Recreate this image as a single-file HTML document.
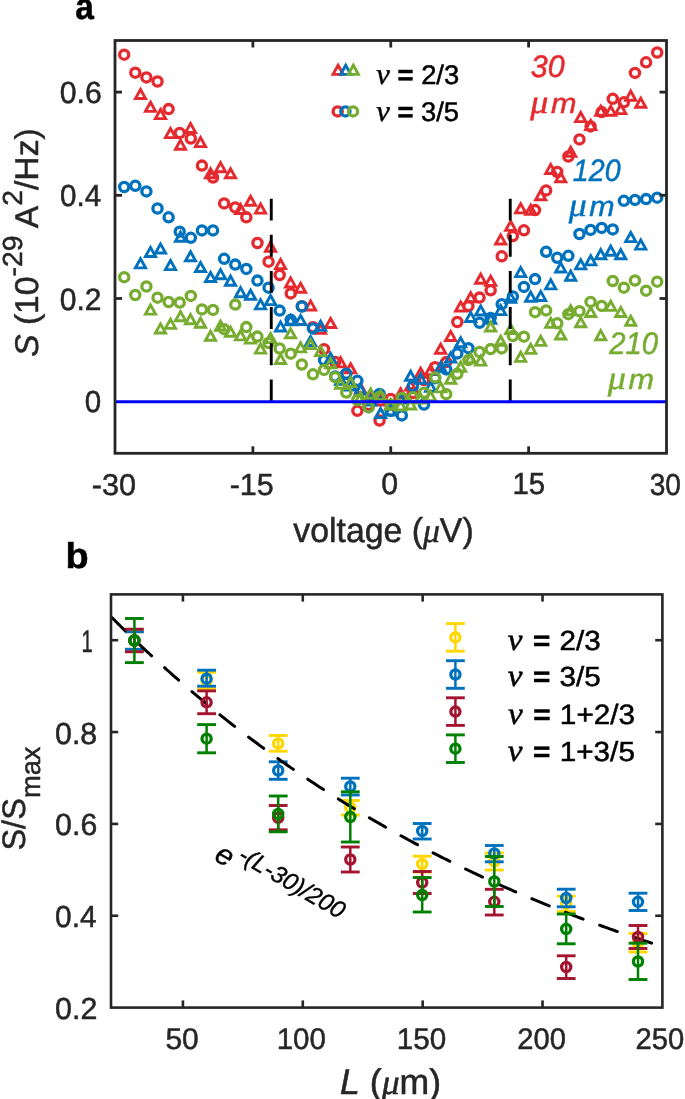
<!DOCTYPE html>
<html><head><meta charset="utf-8"><title>Figure</title>
<style>html,body{margin:0;padding:0;background:#fff;width:685px;height:1099px;overflow:hidden;font-family:"Liberation Sans",sans-serif}</style>
</head><body>
<svg width="685" height="1099" viewBox="0 0 685 1099" style="position:absolute;left:0;top:0;will-change:transform">
<rect width="685" height="1099" fill="#fff"/>
<path d="M140.50 89.40L145.55 98.50L135.45 98.50Z" fill="none" stroke="#E52A2F" stroke-width="2.9" stroke-linejoin="miter"/><path d="M150.50 102.30L155.56 111.40L145.45 111.40Z" fill="none" stroke="#E52A2F" stroke-width="2.9" stroke-linejoin="miter"/><path d="M160.51 109.50L165.56 118.60L155.46 118.60Z" fill="none" stroke="#E52A2F" stroke-width="2.9" stroke-linejoin="miter"/><path d="M170.51 128.50L175.56 137.60L165.46 137.60Z" fill="none" stroke="#E52A2F" stroke-width="2.9" stroke-linejoin="miter"/><path d="M180.52 140.10L185.57 149.20L175.47 149.20Z" fill="none" stroke="#E52A2F" stroke-width="2.9" stroke-linejoin="miter"/><path d="M190.53 123.40L195.58 132.50L185.47 132.50Z" fill="none" stroke="#E52A2F" stroke-width="2.9" stroke-linejoin="miter"/><path d="M200.53 137.50L205.58 146.60L195.48 146.60Z" fill="none" stroke="#E52A2F" stroke-width="2.9" stroke-linejoin="miter"/><path d="M210.54 168.70L215.59 177.80L205.49 177.80Z" fill="none" stroke="#E52A2F" stroke-width="2.9" stroke-linejoin="miter"/><path d="M220.54 162.60L225.59 171.70L215.49 171.70Z" fill="none" stroke="#E52A2F" stroke-width="2.9" stroke-linejoin="miter"/><path d="M230.55 168.70L235.60 177.80L225.50 177.80Z" fill="none" stroke="#E52A2F" stroke-width="2.9" stroke-linejoin="miter"/><path d="M240.55 204.40L245.60 213.50L235.50 213.50Z" fill="none" stroke="#E52A2F" stroke-width="2.9" stroke-linejoin="miter"/><path d="M250.56 196.20L255.61 205.30L245.50 205.30Z" fill="none" stroke="#E52A2F" stroke-width="2.9" stroke-linejoin="miter"/><path d="M260.56 204.00L265.61 213.10L255.51 213.10Z" fill="none" stroke="#E52A2F" stroke-width="2.9" stroke-linejoin="miter"/><path d="M270.56 242.10L275.62 251.20L265.51 251.20Z" fill="none" stroke="#E52A2F" stroke-width="2.9" stroke-linejoin="miter"/><path d="M280.57 259.50L285.62 268.60L275.52 268.60Z" fill="none" stroke="#E52A2F" stroke-width="2.9" stroke-linejoin="miter"/><path d="M290.58 277.90L295.63 287.00L285.53 287.00Z" fill="none" stroke="#E52A2F" stroke-width="2.9" stroke-linejoin="miter"/><path d="M300.58 283.20L305.63 292.30L295.53 292.30Z" fill="none" stroke="#E52A2F" stroke-width="2.9" stroke-linejoin="miter"/><path d="M310.59 300.90L315.64 310.00L305.54 310.00Z" fill="none" stroke="#E52A2F" stroke-width="2.9" stroke-linejoin="miter"/><path d="M320.59 324.30L325.64 333.40L315.54 333.40Z" fill="none" stroke="#E52A2F" stroke-width="2.9" stroke-linejoin="miter"/><path d="M330.60 318.40L335.65 327.50L325.55 327.50Z" fill="none" stroke="#E52A2F" stroke-width="2.9" stroke-linejoin="miter"/><path d="M340.60 357.80L345.65 366.90L335.55 366.90Z" fill="none" stroke="#E52A2F" stroke-width="2.9" stroke-linejoin="miter"/><path d="M350.61 363.80L355.66 372.90L345.56 372.90Z" fill="none" stroke="#E52A2F" stroke-width="2.9" stroke-linejoin="miter"/><path d="M360.61 383.60L365.66 392.70L355.56 392.70Z" fill="none" stroke="#E52A2F" stroke-width="2.9" stroke-linejoin="miter"/><path d="M370.62 390.90L375.67 400.00L365.56 400.00Z" fill="none" stroke="#E52A2F" stroke-width="2.9" stroke-linejoin="miter"/><path d="M380.62 395.90L385.67 405.00L375.57 405.00Z" fill="none" stroke="#E52A2F" stroke-width="2.9" stroke-linejoin="miter"/><path d="M390.62 399.90L395.68 409.00L385.57 409.00Z" fill="none" stroke="#E52A2F" stroke-width="2.9" stroke-linejoin="miter"/><path d="M400.63 388.70L405.68 397.80L395.58 397.80Z" fill="none" stroke="#E52A2F" stroke-width="2.9" stroke-linejoin="miter"/><path d="M410.64 380.90L415.69 390.00L405.59 390.00Z" fill="none" stroke="#E52A2F" stroke-width="2.9" stroke-linejoin="miter"/><path d="M420.64 368.20L425.69 377.30L415.59 377.30Z" fill="none" stroke="#E52A2F" stroke-width="2.9" stroke-linejoin="miter"/><path d="M430.65 365.50L435.70 374.60L425.60 374.60Z" fill="none" stroke="#E52A2F" stroke-width="2.9" stroke-linejoin="miter"/><path d="M440.65 344.20L445.70 353.30L435.60 353.30Z" fill="none" stroke="#E52A2F" stroke-width="2.9" stroke-linejoin="miter"/><path d="M450.66 331.40L455.71 340.50L445.61 340.50Z" fill="none" stroke="#E52A2F" stroke-width="2.9" stroke-linejoin="miter"/><path d="M460.66 301.90L465.71 311.00L455.61 311.00Z" fill="none" stroke="#E52A2F" stroke-width="2.9" stroke-linejoin="miter"/><path d="M470.67 292.70L475.72 301.80L465.62 301.80Z" fill="none" stroke="#E52A2F" stroke-width="2.9" stroke-linejoin="miter"/><path d="M480.67 274.10L485.72 283.20L475.62 283.20Z" fill="none" stroke="#E52A2F" stroke-width="2.9" stroke-linejoin="miter"/><path d="M490.68 276.30L495.73 285.40L485.62 285.40Z" fill="none" stroke="#E52A2F" stroke-width="2.9" stroke-linejoin="miter"/><path d="M500.68 234.90L505.73 244.00L495.63 244.00Z" fill="none" stroke="#E52A2F" stroke-width="2.9" stroke-linejoin="miter"/><path d="M510.69 221.30L515.74 230.40L505.63 230.40Z" fill="none" stroke="#E52A2F" stroke-width="2.9" stroke-linejoin="miter"/><path d="M520.69 203.80L525.74 212.90L515.64 212.90Z" fill="none" stroke="#E52A2F" stroke-width="2.9" stroke-linejoin="miter"/><path d="M530.70 205.20L535.75 214.30L525.65 214.30Z" fill="none" stroke="#E52A2F" stroke-width="2.9" stroke-linejoin="miter"/><path d="M540.70 190.60L545.75 199.70L535.65 199.70Z" fill="none" stroke="#E52A2F" stroke-width="2.9" stroke-linejoin="miter"/><path d="M550.71 164.40L555.75 173.50L545.66 173.50Z" fill="none" stroke="#E52A2F" stroke-width="2.9" stroke-linejoin="miter"/><path d="M560.71 172.70L565.76 181.80L555.66 181.80Z" fill="none" stroke="#E52A2F" stroke-width="2.9" stroke-linejoin="miter"/><path d="M570.72 147.20L575.76 156.30L565.67 156.30Z" fill="none" stroke="#E52A2F" stroke-width="2.9" stroke-linejoin="miter"/><path d="M580.72 112.50L585.77 121.60L575.67 121.60Z" fill="none" stroke="#E52A2F" stroke-width="2.9" stroke-linejoin="miter"/><path d="M590.73 120.50L595.77 129.60L585.68 129.60Z" fill="none" stroke="#E52A2F" stroke-width="2.9" stroke-linejoin="miter"/><path d="M600.73 106.20L605.78 115.30L595.68 115.30Z" fill="none" stroke="#E52A2F" stroke-width="2.9" stroke-linejoin="miter"/><path d="M610.74 106.20L615.78 115.30L605.69 115.30Z" fill="none" stroke="#E52A2F" stroke-width="2.9" stroke-linejoin="miter"/><path d="M620.74 104.50L625.79 113.60L615.69 113.60Z" fill="none" stroke="#E52A2F" stroke-width="2.9" stroke-linejoin="miter"/><path d="M630.75 91.10L635.80 100.20L625.70 100.20Z" fill="none" stroke="#E52A2F" stroke-width="2.9" stroke-linejoin="miter"/><path d="M640.75 98.20L645.80 107.30L635.70 107.30Z" fill="none" stroke="#E52A2F" stroke-width="2.9" stroke-linejoin="miter"/>
<circle cx="124.20" cy="54.70" r="4.6" fill="none" stroke="#E52A2F" stroke-width="3.3"/><circle cx="135.30" cy="72.70" r="4.6" fill="none" stroke="#E52A2F" stroke-width="3.3"/><circle cx="146.41" cy="77.40" r="4.6" fill="none" stroke="#E52A2F" stroke-width="3.3"/><circle cx="157.51" cy="81.50" r="4.6" fill="none" stroke="#E52A2F" stroke-width="3.3"/><circle cx="168.62" cy="109.10" r="4.6" fill="none" stroke="#E52A2F" stroke-width="3.3"/><circle cx="179.72" cy="133.00" r="4.6" fill="none" stroke="#E52A2F" stroke-width="3.3"/><circle cx="190.82" cy="138.50" r="4.6" fill="none" stroke="#E52A2F" stroke-width="3.3"/><circle cx="201.93" cy="165.60" r="4.6" fill="none" stroke="#E52A2F" stroke-width="3.3"/><circle cx="213.03" cy="177.50" r="4.6" fill="none" stroke="#E52A2F" stroke-width="3.3"/><circle cx="224.14" cy="203.40" r="4.6" fill="none" stroke="#E52A2F" stroke-width="3.3"/><circle cx="235.24" cy="207.40" r="4.6" fill="none" stroke="#E52A2F" stroke-width="3.3"/><circle cx="246.34" cy="217.30" r="4.6" fill="none" stroke="#E52A2F" stroke-width="3.3"/><circle cx="257.45" cy="243.00" r="4.6" fill="none" stroke="#E52A2F" stroke-width="3.3"/><circle cx="268.55" cy="261.70" r="4.6" fill="none" stroke="#E52A2F" stroke-width="3.3"/><circle cx="279.66" cy="275.00" r="4.6" fill="none" stroke="#E52A2F" stroke-width="3.3"/><circle cx="290.76" cy="293.40" r="4.6" fill="none" stroke="#E52A2F" stroke-width="3.3"/><circle cx="301.86" cy="306.20" r="4.6" fill="none" stroke="#E52A2F" stroke-width="3.3"/><circle cx="312.97" cy="327.20" r="4.6" fill="none" stroke="#E52A2F" stroke-width="3.3"/><circle cx="324.07" cy="349.20" r="4.6" fill="none" stroke="#E52A2F" stroke-width="3.3"/><circle cx="335.18" cy="362.00" r="4.6" fill="none" stroke="#E52A2F" stroke-width="3.3"/><circle cx="346.28" cy="374.00" r="4.6" fill="none" stroke="#E52A2F" stroke-width="3.3"/><circle cx="357.38" cy="410.80" r="4.6" fill="none" stroke="#E52A2F" stroke-width="3.3"/><circle cx="368.49" cy="405.00" r="4.6" fill="none" stroke="#E52A2F" stroke-width="3.3"/><circle cx="379.59" cy="420.50" r="4.6" fill="none" stroke="#E52A2F" stroke-width="3.3"/><circle cx="390.70" cy="399.00" r="4.6" fill="none" stroke="#E52A2F" stroke-width="3.3"/><circle cx="401.80" cy="398.00" r="4.6" fill="none" stroke="#E52A2F" stroke-width="3.3"/><circle cx="412.90" cy="393.00" r="4.6" fill="none" stroke="#E52A2F" stroke-width="3.3"/><circle cx="424.01" cy="380.00" r="4.6" fill="none" stroke="#E52A2F" stroke-width="3.3"/><circle cx="435.11" cy="367.20" r="4.6" fill="none" stroke="#E52A2F" stroke-width="3.3"/><circle cx="446.22" cy="362.10" r="4.6" fill="none" stroke="#E52A2F" stroke-width="3.3"/><circle cx="457.32" cy="322.00" r="4.6" fill="none" stroke="#E52A2F" stroke-width="3.3"/><circle cx="468.42" cy="306.10" r="4.6" fill="none" stroke="#E52A2F" stroke-width="3.3"/><circle cx="479.53" cy="297.60" r="4.6" fill="none" stroke="#E52A2F" stroke-width="3.3"/><circle cx="490.63" cy="290.30" r="4.6" fill="none" stroke="#E52A2F" stroke-width="3.3"/><circle cx="501.74" cy="256.30" r="4.6" fill="none" stroke="#E52A2F" stroke-width="3.3"/><circle cx="512.84" cy="236.10" r="4.6" fill="none" stroke="#E52A2F" stroke-width="3.3"/><circle cx="523.94" cy="230.30" r="4.6" fill="none" stroke="#E52A2F" stroke-width="3.3"/><circle cx="535.05" cy="210.10" r="4.6" fill="none" stroke="#E52A2F" stroke-width="3.3"/><circle cx="546.15" cy="190.40" r="4.6" fill="none" stroke="#E52A2F" stroke-width="3.3"/><circle cx="557.26" cy="172.00" r="4.6" fill="none" stroke="#E52A2F" stroke-width="3.3"/><circle cx="568.36" cy="156.50" r="4.6" fill="none" stroke="#E52A2F" stroke-width="3.3"/><circle cx="579.46" cy="139.40" r="4.6" fill="none" stroke="#E52A2F" stroke-width="3.3"/><circle cx="590.57" cy="126.40" r="4.6" fill="none" stroke="#E52A2F" stroke-width="3.3"/><circle cx="601.67" cy="112.10" r="4.6" fill="none" stroke="#E52A2F" stroke-width="3.3"/><circle cx="612.78" cy="98.80" r="4.6" fill="none" stroke="#E52A2F" stroke-width="3.3"/><circle cx="623.88" cy="102.30" r="4.6" fill="none" stroke="#E52A2F" stroke-width="3.3"/><circle cx="634.98" cy="72.90" r="4.6" fill="none" stroke="#E52A2F" stroke-width="3.3"/><circle cx="646.09" cy="62.30" r="4.6" fill="none" stroke="#E52A2F" stroke-width="3.3"/><circle cx="657.19" cy="52.50" r="4.6" fill="none" stroke="#E52A2F" stroke-width="3.3"/>
<path d="M140.50 258.80L145.55 267.90L135.45 267.90Z" fill="none" stroke="#0072BD" stroke-width="2.9" stroke-linejoin="miter"/><path d="M150.50 247.40L155.56 256.50L145.45 256.50Z" fill="none" stroke="#0072BD" stroke-width="2.9" stroke-linejoin="miter"/><path d="M160.51 243.90L165.56 253.00L155.46 253.00Z" fill="none" stroke="#0072BD" stroke-width="2.9" stroke-linejoin="miter"/><path d="M170.51 260.50L175.56 269.60L165.46 269.60Z" fill="none" stroke="#0072BD" stroke-width="2.9" stroke-linejoin="miter"/><path d="M180.52 232.10L185.57 241.20L175.47 241.20Z" fill="none" stroke="#0072BD" stroke-width="2.9" stroke-linejoin="miter"/><path d="M190.53 251.70L195.58 260.80L185.47 260.80Z" fill="none" stroke="#0072BD" stroke-width="2.9" stroke-linejoin="miter"/><path d="M200.53 262.40L205.58 271.50L195.48 271.50Z" fill="none" stroke="#0072BD" stroke-width="2.9" stroke-linejoin="miter"/><path d="M210.54 272.40L215.59 281.50L205.49 281.50Z" fill="none" stroke="#0072BD" stroke-width="2.9" stroke-linejoin="miter"/><path d="M220.54 269.60L225.59 278.70L215.49 278.70Z" fill="none" stroke="#0072BD" stroke-width="2.9" stroke-linejoin="miter"/><path d="M230.55 276.10L235.60 285.20L225.50 285.20Z" fill="none" stroke="#0072BD" stroke-width="2.9" stroke-linejoin="miter"/><path d="M240.55 287.60L245.60 296.70L235.50 296.70Z" fill="none" stroke="#0072BD" stroke-width="2.9" stroke-linejoin="miter"/><path d="M250.56 290.20L255.61 299.30L245.50 299.30Z" fill="none" stroke="#0072BD" stroke-width="2.9" stroke-linejoin="miter"/><path d="M260.56 299.80L265.61 308.90L255.51 308.90Z" fill="none" stroke="#0072BD" stroke-width="2.9" stroke-linejoin="miter"/><path d="M270.56 295.50L275.62 304.60L265.51 304.60Z" fill="none" stroke="#0072BD" stroke-width="2.9" stroke-linejoin="miter"/><path d="M280.57 321.90L285.62 331.00L275.52 331.00Z" fill="none" stroke="#0072BD" stroke-width="2.9" stroke-linejoin="miter"/><path d="M290.58 315.60L295.63 324.70L285.53 324.70Z" fill="none" stroke="#0072BD" stroke-width="2.9" stroke-linejoin="miter"/><path d="M300.58 315.40L305.63 324.50L295.53 324.50Z" fill="none" stroke="#0072BD" stroke-width="2.9" stroke-linejoin="miter"/><path d="M310.59 336.40L315.64 345.50L305.54 345.50Z" fill="none" stroke="#0072BD" stroke-width="2.9" stroke-linejoin="miter"/><path d="M320.59 321.20L325.64 330.30L315.54 330.30Z" fill="none" stroke="#0072BD" stroke-width="2.9" stroke-linejoin="miter"/><path d="M330.60 353.50L335.65 362.60L325.55 362.60Z" fill="none" stroke="#0072BD" stroke-width="2.9" stroke-linejoin="miter"/><path d="M340.60 375.30L345.65 384.40L335.55 384.40Z" fill="none" stroke="#0072BD" stroke-width="2.9" stroke-linejoin="miter"/><path d="M350.61 380.90L355.66 390.00L345.56 390.00Z" fill="none" stroke="#0072BD" stroke-width="2.9" stroke-linejoin="miter"/><path d="M360.61 385.10L365.66 394.20L355.56 394.20Z" fill="none" stroke="#0072BD" stroke-width="2.9" stroke-linejoin="miter"/><path d="M370.62 395.90L375.67 405.00L365.56 405.00Z" fill="none" stroke="#0072BD" stroke-width="2.9" stroke-linejoin="miter"/><path d="M380.62 408.50L385.67 417.60L375.57 417.60Z" fill="none" stroke="#0072BD" stroke-width="2.9" stroke-linejoin="miter"/><path d="M390.62 405.90L395.68 415.00L385.57 415.00Z" fill="none" stroke="#0072BD" stroke-width="2.9" stroke-linejoin="miter"/><path d="M400.63 393.90L405.68 403.00L395.58 403.00Z" fill="none" stroke="#0072BD" stroke-width="2.9" stroke-linejoin="miter"/><path d="M410.64 371.20L415.69 380.30L405.59 380.30Z" fill="none" stroke="#0072BD" stroke-width="2.9" stroke-linejoin="miter"/><path d="M420.64 374.10L425.69 383.20L415.59 383.20Z" fill="none" stroke="#0072BD" stroke-width="2.9" stroke-linejoin="miter"/><path d="M430.65 382.10L435.70 391.20L425.60 391.20Z" fill="none" stroke="#0072BD" stroke-width="2.9" stroke-linejoin="miter"/><path d="M440.65 362.40L445.70 371.50L435.60 371.50Z" fill="none" stroke="#0072BD" stroke-width="2.9" stroke-linejoin="miter"/><path d="M450.66 352.90L455.71 362.00L445.61 362.00Z" fill="none" stroke="#0072BD" stroke-width="2.9" stroke-linejoin="miter"/><path d="M460.66 337.70L465.71 346.80L455.61 346.80Z" fill="none" stroke="#0072BD" stroke-width="2.9" stroke-linejoin="miter"/><path d="M470.67 312.40L475.72 321.50L465.62 321.50Z" fill="none" stroke="#0072BD" stroke-width="2.9" stroke-linejoin="miter"/><path d="M480.67 305.90L485.72 315.00L475.62 315.00Z" fill="none" stroke="#0072BD" stroke-width="2.9" stroke-linejoin="miter"/><path d="M490.68 314.30L495.73 323.40L485.62 323.40Z" fill="none" stroke="#0072BD" stroke-width="2.9" stroke-linejoin="miter"/><path d="M500.68 305.50L505.73 314.60L495.63 314.60Z" fill="none" stroke="#0072BD" stroke-width="2.9" stroke-linejoin="miter"/><path d="M510.69 293.10L515.74 302.20L505.63 302.20Z" fill="none" stroke="#0072BD" stroke-width="2.9" stroke-linejoin="miter"/><path d="M520.69 267.50L525.74 276.60L515.64 276.60Z" fill="none" stroke="#0072BD" stroke-width="2.9" stroke-linejoin="miter"/><path d="M530.70 292.10L535.75 301.20L525.65 301.20Z" fill="none" stroke="#0072BD" stroke-width="2.9" stroke-linejoin="miter"/><path d="M540.70 291.40L545.75 300.50L535.65 300.50Z" fill="none" stroke="#0072BD" stroke-width="2.9" stroke-linejoin="miter"/><path d="M550.71 279.80L555.75 288.90L545.66 288.90Z" fill="none" stroke="#0072BD" stroke-width="2.9" stroke-linejoin="miter"/><path d="M560.71 262.90L565.76 272.00L555.66 272.00Z" fill="none" stroke="#0072BD" stroke-width="2.9" stroke-linejoin="miter"/><path d="M570.72 271.10L575.76 280.20L565.67 280.20Z" fill="none" stroke="#0072BD" stroke-width="2.9" stroke-linejoin="miter"/><path d="M580.72 259.80L585.77 268.90L575.67 268.90Z" fill="none" stroke="#0072BD" stroke-width="2.9" stroke-linejoin="miter"/><path d="M590.73 255.80L595.77 264.90L585.68 264.90Z" fill="none" stroke="#0072BD" stroke-width="2.9" stroke-linejoin="miter"/><path d="M600.73 249.60L605.78 258.70L595.68 258.70Z" fill="none" stroke="#0072BD" stroke-width="2.9" stroke-linejoin="miter"/><path d="M610.74 246.10L615.78 255.20L605.69 255.20Z" fill="none" stroke="#0072BD" stroke-width="2.9" stroke-linejoin="miter"/><path d="M620.74 249.60L625.79 258.70L615.69 258.70Z" fill="none" stroke="#0072BD" stroke-width="2.9" stroke-linejoin="miter"/><path d="M630.75 232.50L635.80 241.60L625.70 241.60Z" fill="none" stroke="#0072BD" stroke-width="2.9" stroke-linejoin="miter"/><path d="M640.75 240.00L645.80 249.10L635.70 249.10Z" fill="none" stroke="#0072BD" stroke-width="2.9" stroke-linejoin="miter"/>
<circle cx="124.20" cy="187.00" r="4.6" fill="none" stroke="#0072BD" stroke-width="3.3"/><circle cx="135.30" cy="185.80" r="4.6" fill="none" stroke="#0072BD" stroke-width="3.3"/><circle cx="146.41" cy="191.40" r="4.6" fill="none" stroke="#0072BD" stroke-width="3.3"/><circle cx="157.51" cy="208.50" r="4.6" fill="none" stroke="#0072BD" stroke-width="3.3"/><circle cx="168.62" cy="217.30" r="4.6" fill="none" stroke="#0072BD" stroke-width="3.3"/><circle cx="179.72" cy="231.70" r="4.6" fill="none" stroke="#0072BD" stroke-width="3.3"/><circle cx="190.82" cy="237.80" r="4.6" fill="none" stroke="#0072BD" stroke-width="3.3"/><circle cx="201.93" cy="230.40" r="4.6" fill="none" stroke="#0072BD" stroke-width="3.3"/><circle cx="213.03" cy="230.40" r="4.6" fill="none" stroke="#0072BD" stroke-width="3.3"/><circle cx="224.14" cy="258.80" r="4.6" fill="none" stroke="#0072BD" stroke-width="3.3"/><circle cx="235.24" cy="264.60" r="4.6" fill="none" stroke="#0072BD" stroke-width="3.3"/><circle cx="246.34" cy="268.90" r="4.6" fill="none" stroke="#0072BD" stroke-width="3.3"/><circle cx="257.45" cy="280.60" r="4.6" fill="none" stroke="#0072BD" stroke-width="3.3"/><circle cx="268.55" cy="287.70" r="4.6" fill="none" stroke="#0072BD" stroke-width="3.3"/><circle cx="279.66" cy="310.60" r="4.6" fill="none" stroke="#0072BD" stroke-width="3.3"/><circle cx="290.76" cy="319.80" r="4.6" fill="none" stroke="#0072BD" stroke-width="3.3"/><circle cx="301.86" cy="306.50" r="4.6" fill="none" stroke="#0072BD" stroke-width="3.3"/><circle cx="312.97" cy="328.40" r="4.6" fill="none" stroke="#0072BD" stroke-width="3.3"/><circle cx="324.07" cy="360.10" r="4.6" fill="none" stroke="#0072BD" stroke-width="3.3"/><circle cx="335.18" cy="376.50" r="4.6" fill="none" stroke="#0072BD" stroke-width="3.3"/><circle cx="346.28" cy="373.80" r="4.6" fill="none" stroke="#0072BD" stroke-width="3.3"/><circle cx="357.38" cy="380.80" r="4.6" fill="none" stroke="#0072BD" stroke-width="3.3"/><circle cx="368.49" cy="407.20" r="4.6" fill="none" stroke="#0072BD" stroke-width="3.3"/><circle cx="379.59" cy="394.00" r="4.6" fill="none" stroke="#0072BD" stroke-width="3.3"/><circle cx="390.70" cy="410.90" r="4.6" fill="none" stroke="#0072BD" stroke-width="3.3"/><circle cx="401.80" cy="415.40" r="4.6" fill="none" stroke="#0072BD" stroke-width="3.3"/><circle cx="412.90" cy="386.20" r="4.6" fill="none" stroke="#0072BD" stroke-width="3.3"/><circle cx="424.01" cy="404.50" r="4.6" fill="none" stroke="#0072BD" stroke-width="3.3"/><circle cx="435.11" cy="378.20" r="4.6" fill="none" stroke="#0072BD" stroke-width="3.3"/><circle cx="446.22" cy="369.40" r="4.6" fill="none" stroke="#0072BD" stroke-width="3.3"/><circle cx="457.32" cy="353.40" r="4.6" fill="none" stroke="#0072BD" stroke-width="3.3"/><circle cx="468.42" cy="348.20" r="4.6" fill="none" stroke="#0072BD" stroke-width="3.3"/><circle cx="479.53" cy="322.80" r="4.6" fill="none" stroke="#0072BD" stroke-width="3.3"/><circle cx="490.63" cy="318.00" r="4.6" fill="none" stroke="#0072BD" stroke-width="3.3"/><circle cx="501.74" cy="304.20" r="4.6" fill="none" stroke="#0072BD" stroke-width="3.3"/><circle cx="512.84" cy="296.50" r="4.6" fill="none" stroke="#0072BD" stroke-width="3.3"/><circle cx="523.94" cy="286.90" r="4.6" fill="none" stroke="#0072BD" stroke-width="3.3"/><circle cx="535.05" cy="279.10" r="4.6" fill="none" stroke="#0072BD" stroke-width="3.3"/><circle cx="546.15" cy="251.80" r="4.6" fill="none" stroke="#0072BD" stroke-width="3.3"/><circle cx="557.26" cy="257.80" r="4.6" fill="none" stroke="#0072BD" stroke-width="3.3"/><circle cx="568.36" cy="255.80" r="4.6" fill="none" stroke="#0072BD" stroke-width="3.3"/><circle cx="579.46" cy="234.00" r="4.6" fill="none" stroke="#0072BD" stroke-width="3.3"/><circle cx="590.57" cy="229.90" r="4.6" fill="none" stroke="#0072BD" stroke-width="3.3"/><circle cx="601.67" cy="227.90" r="4.6" fill="none" stroke="#0072BD" stroke-width="3.3"/><circle cx="612.78" cy="229.40" r="4.6" fill="none" stroke="#0072BD" stroke-width="3.3"/><circle cx="623.88" cy="200.80" r="4.6" fill="none" stroke="#0072BD" stroke-width="3.3"/><circle cx="634.98" cy="199.90" r="4.6" fill="none" stroke="#0072BD" stroke-width="3.3"/><circle cx="646.09" cy="199.10" r="4.6" fill="none" stroke="#0072BD" stroke-width="3.3"/><circle cx="657.19" cy="197.70" r="4.6" fill="none" stroke="#0072BD" stroke-width="3.3"/>
<path d="M150.50 305.00L155.56 314.10L145.45 314.10Z" fill="none" stroke="#77AC30" stroke-width="2.9" stroke-linejoin="miter"/><path d="M160.51 323.90L165.56 333.00L155.46 333.00Z" fill="none" stroke="#77AC30" stroke-width="2.9" stroke-linejoin="miter"/><path d="M170.51 319.30L175.56 328.40L165.46 328.40Z" fill="none" stroke="#77AC30" stroke-width="2.9" stroke-linejoin="miter"/><path d="M180.52 311.60L185.57 320.70L175.47 320.70Z" fill="none" stroke="#77AC30" stroke-width="2.9" stroke-linejoin="miter"/><path d="M190.53 314.60L195.58 323.70L185.47 323.70Z" fill="none" stroke="#77AC30" stroke-width="2.9" stroke-linejoin="miter"/><path d="M200.53 318.10L205.58 327.20L195.48 327.20Z" fill="none" stroke="#77AC30" stroke-width="2.9" stroke-linejoin="miter"/><path d="M210.54 331.20L215.59 340.30L205.49 340.30Z" fill="none" stroke="#77AC30" stroke-width="2.9" stroke-linejoin="miter"/><path d="M220.54 321.10L225.59 330.20L215.49 330.20Z" fill="none" stroke="#77AC30" stroke-width="2.9" stroke-linejoin="miter"/><path d="M230.55 327.20L235.60 336.30L225.50 336.30Z" fill="none" stroke="#77AC30" stroke-width="2.9" stroke-linejoin="miter"/><path d="M240.55 330.80L245.60 339.90L235.50 339.90Z" fill="none" stroke="#77AC30" stroke-width="2.9" stroke-linejoin="miter"/><path d="M250.56 334.00L255.61 343.10L245.50 343.10Z" fill="none" stroke="#77AC30" stroke-width="2.9" stroke-linejoin="miter"/><path d="M260.56 344.00L265.61 353.10L255.51 353.10Z" fill="none" stroke="#77AC30" stroke-width="2.9" stroke-linejoin="miter"/><path d="M270.56 333.50L275.62 342.60L265.51 342.60Z" fill="none" stroke="#77AC30" stroke-width="2.9" stroke-linejoin="miter"/><path d="M280.57 354.40L285.62 363.50L275.52 363.50Z" fill="none" stroke="#77AC30" stroke-width="2.9" stroke-linejoin="miter"/><path d="M290.58 328.70L295.63 337.80L285.53 337.80Z" fill="none" stroke="#77AC30" stroke-width="2.9" stroke-linejoin="miter"/><path d="M300.58 342.80L305.63 351.90L295.53 351.90Z" fill="none" stroke="#77AC30" stroke-width="2.9" stroke-linejoin="miter"/><path d="M310.59 339.50L315.64 348.60L305.54 348.60Z" fill="none" stroke="#77AC30" stroke-width="2.9" stroke-linejoin="miter"/><path d="M320.59 346.50L325.64 355.60L315.54 355.60Z" fill="none" stroke="#77AC30" stroke-width="2.9" stroke-linejoin="miter"/><path d="M330.60 358.60L335.65 367.70L325.55 367.70Z" fill="none" stroke="#77AC30" stroke-width="2.9" stroke-linejoin="miter"/><path d="M340.60 379.10L345.65 388.20L335.55 388.20Z" fill="none" stroke="#77AC30" stroke-width="2.9" stroke-linejoin="miter"/><path d="M350.61 377.40L355.66 386.50L345.56 386.50Z" fill="none" stroke="#77AC30" stroke-width="2.9" stroke-linejoin="miter"/><path d="M360.61 392.80L365.66 401.90L355.56 401.90Z" fill="none" stroke="#77AC30" stroke-width="2.9" stroke-linejoin="miter"/><path d="M370.62 389.00L375.67 398.10L365.56 398.10Z" fill="none" stroke="#77AC30" stroke-width="2.9" stroke-linejoin="miter"/><path d="M380.62 390.70L385.67 399.80L375.57 399.80Z" fill="none" stroke="#77AC30" stroke-width="2.9" stroke-linejoin="miter"/><path d="M390.62 399.90L395.68 409.00L385.57 409.00Z" fill="none" stroke="#77AC30" stroke-width="2.9" stroke-linejoin="miter"/><path d="M400.63 400.90L405.68 410.00L395.58 410.00Z" fill="none" stroke="#77AC30" stroke-width="2.9" stroke-linejoin="miter"/><path d="M410.64 399.90L415.69 409.00L405.59 409.00Z" fill="none" stroke="#77AC30" stroke-width="2.9" stroke-linejoin="miter"/><path d="M420.64 393.90L425.69 403.00L415.59 403.00Z" fill="none" stroke="#77AC30" stroke-width="2.9" stroke-linejoin="miter"/><path d="M430.65 391.60L435.70 400.70L425.60 400.70Z" fill="none" stroke="#77AC30" stroke-width="2.9" stroke-linejoin="miter"/><path d="M440.65 382.80L445.70 391.90L435.60 391.90Z" fill="none" stroke="#77AC30" stroke-width="2.9" stroke-linejoin="miter"/><path d="M450.66 374.10L455.71 383.20L445.61 383.20Z" fill="none" stroke="#77AC30" stroke-width="2.9" stroke-linejoin="miter"/><path d="M460.66 362.10L465.71 371.20L455.61 371.20Z" fill="none" stroke="#77AC30" stroke-width="2.9" stroke-linejoin="miter"/><path d="M470.67 353.70L475.72 362.80L465.62 362.80Z" fill="none" stroke="#77AC30" stroke-width="2.9" stroke-linejoin="miter"/><path d="M480.67 356.00L485.72 365.10L475.62 365.10Z" fill="none" stroke="#77AC30" stroke-width="2.9" stroke-linejoin="miter"/><path d="M490.68 321.90L495.73 331.00L485.62 331.00Z" fill="none" stroke="#77AC30" stroke-width="2.9" stroke-linejoin="miter"/><path d="M500.68 336.30L505.73 345.40L495.63 345.40Z" fill="none" stroke="#77AC30" stroke-width="2.9" stroke-linejoin="miter"/><path d="M510.69 324.50L515.74 333.60L505.63 333.60Z" fill="none" stroke="#77AC30" stroke-width="2.9" stroke-linejoin="miter"/><path d="M520.69 352.30L525.74 361.40L515.64 361.40Z" fill="none" stroke="#77AC30" stroke-width="2.9" stroke-linejoin="miter"/><path d="M530.70 344.30L535.75 353.40L525.65 353.40Z" fill="none" stroke="#77AC30" stroke-width="2.9" stroke-linejoin="miter"/><path d="M540.70 336.30L545.75 345.40L535.65 345.40Z" fill="none" stroke="#77AC30" stroke-width="2.9" stroke-linejoin="miter"/><path d="M550.71 318.30L555.75 327.40L545.66 327.40Z" fill="none" stroke="#77AC30" stroke-width="2.9" stroke-linejoin="miter"/><path d="M560.71 329.90L565.76 339.00L555.66 339.00Z" fill="none" stroke="#77AC30" stroke-width="2.9" stroke-linejoin="miter"/><path d="M570.72 305.70L575.76 314.80L565.67 314.80Z" fill="none" stroke="#77AC30" stroke-width="2.9" stroke-linejoin="miter"/><path d="M580.72 317.60L585.77 326.70L575.67 326.70Z" fill="none" stroke="#77AC30" stroke-width="2.9" stroke-linejoin="miter"/><path d="M590.73 307.40L595.77 316.50L585.68 316.50Z" fill="none" stroke="#77AC30" stroke-width="2.9" stroke-linejoin="miter"/><path d="M600.73 330.60L605.78 339.70L595.68 339.70Z" fill="none" stroke="#77AC30" stroke-width="2.9" stroke-linejoin="miter"/><path d="M610.74 301.30L615.78 310.40L605.69 310.40Z" fill="none" stroke="#77AC30" stroke-width="2.9" stroke-linejoin="miter"/><path d="M620.74 307.40L625.79 316.50L615.69 316.50Z" fill="none" stroke="#77AC30" stroke-width="2.9" stroke-linejoin="miter"/><path d="M630.75 316.20L635.80 325.30L625.70 325.30Z" fill="none" stroke="#77AC30" stroke-width="2.9" stroke-linejoin="miter"/>
<circle cx="124.20" cy="277.20" r="4.6" fill="none" stroke="#77AC30" stroke-width="3.3"/><circle cx="135.30" cy="295.00" r="4.6" fill="none" stroke="#77AC30" stroke-width="3.3"/><circle cx="146.41" cy="286.50" r="4.6" fill="none" stroke="#77AC30" stroke-width="3.3"/><circle cx="157.51" cy="297.70" r="4.6" fill="none" stroke="#77AC30" stroke-width="3.3"/><circle cx="168.62" cy="302.00" r="4.6" fill="none" stroke="#77AC30" stroke-width="3.3"/><circle cx="179.72" cy="302.60" r="4.6" fill="none" stroke="#77AC30" stroke-width="3.3"/><circle cx="190.82" cy="295.90" r="4.6" fill="none" stroke="#77AC30" stroke-width="3.3"/><circle cx="201.93" cy="309.40" r="4.6" fill="none" stroke="#77AC30" stroke-width="3.3"/><circle cx="213.03" cy="309.90" r="4.6" fill="none" stroke="#77AC30" stroke-width="3.3"/><circle cx="224.14" cy="329.20" r="4.6" fill="none" stroke="#77AC30" stroke-width="3.3"/><circle cx="235.24" cy="304.60" r="4.6" fill="none" stroke="#77AC30" stroke-width="3.3"/><circle cx="246.34" cy="327.10" r="4.6" fill="none" stroke="#77AC30" stroke-width="3.3"/><circle cx="257.45" cy="336.60" r="4.6" fill="none" stroke="#77AC30" stroke-width="3.3"/><circle cx="268.55" cy="343.00" r="4.6" fill="none" stroke="#77AC30" stroke-width="3.3"/><circle cx="279.66" cy="348.50" r="4.6" fill="none" stroke="#77AC30" stroke-width="3.3"/><circle cx="290.76" cy="353.70" r="4.6" fill="none" stroke="#77AC30" stroke-width="3.3"/><circle cx="301.86" cy="364.50" r="4.6" fill="none" stroke="#77AC30" stroke-width="3.3"/><circle cx="312.97" cy="374.30" r="4.6" fill="none" stroke="#77AC30" stroke-width="3.3"/><circle cx="324.07" cy="369.90" r="4.6" fill="none" stroke="#77AC30" stroke-width="3.3"/><circle cx="335.18" cy="377.20" r="4.6" fill="none" stroke="#77AC30" stroke-width="3.3"/><circle cx="346.28" cy="392.50" r="4.6" fill="none" stroke="#77AC30" stroke-width="3.3"/><circle cx="357.38" cy="400.00" r="4.6" fill="none" stroke="#77AC30" stroke-width="3.3"/><circle cx="368.49" cy="407.20" r="4.6" fill="none" stroke="#77AC30" stroke-width="3.3"/><circle cx="379.59" cy="396.90" r="4.6" fill="none" stroke="#77AC30" stroke-width="3.3"/><circle cx="390.70" cy="404.50" r="4.6" fill="none" stroke="#77AC30" stroke-width="3.3"/><circle cx="401.80" cy="397.90" r="4.6" fill="none" stroke="#77AC30" stroke-width="3.3"/><circle cx="412.90" cy="397.20" r="4.6" fill="none" stroke="#77AC30" stroke-width="3.3"/><circle cx="424.01" cy="392.80" r="4.6" fill="none" stroke="#77AC30" stroke-width="3.3"/><circle cx="435.11" cy="377.40" r="4.6" fill="none" stroke="#77AC30" stroke-width="3.3"/><circle cx="446.22" cy="394.20" r="4.6" fill="none" stroke="#77AC30" stroke-width="3.3"/><circle cx="457.32" cy="373.80" r="4.6" fill="none" stroke="#77AC30" stroke-width="3.3"/><circle cx="468.42" cy="360.10" r="4.6" fill="none" stroke="#77AC30" stroke-width="3.3"/><circle cx="479.53" cy="352.00" r="4.6" fill="none" stroke="#77AC30" stroke-width="3.3"/><circle cx="490.63" cy="349.10" r="4.6" fill="none" stroke="#77AC30" stroke-width="3.3"/><circle cx="501.74" cy="348.40" r="4.6" fill="none" stroke="#77AC30" stroke-width="3.3"/><circle cx="512.84" cy="336.00" r="4.6" fill="none" stroke="#77AC30" stroke-width="3.3"/><circle cx="523.94" cy="336.70" r="4.6" fill="none" stroke="#77AC30" stroke-width="3.3"/><circle cx="535.05" cy="312.20" r="4.6" fill="none" stroke="#77AC30" stroke-width="3.3"/><circle cx="546.15" cy="310.40" r="4.6" fill="none" stroke="#77AC30" stroke-width="3.3"/><circle cx="557.26" cy="323.30" r="4.6" fill="none" stroke="#77AC30" stroke-width="3.3"/><circle cx="568.36" cy="314.20" r="4.6" fill="none" stroke="#77AC30" stroke-width="3.3"/><circle cx="579.46" cy="311.20" r="4.6" fill="none" stroke="#77AC30" stroke-width="3.3"/><circle cx="590.57" cy="301.90" r="4.6" fill="none" stroke="#77AC30" stroke-width="3.3"/><circle cx="601.67" cy="305.90" r="4.6" fill="none" stroke="#77AC30" stroke-width="3.3"/><circle cx="612.78" cy="281.00" r="4.6" fill="none" stroke="#77AC30" stroke-width="3.3"/><circle cx="623.88" cy="287.70" r="4.6" fill="none" stroke="#77AC30" stroke-width="3.3"/><circle cx="634.98" cy="280.50" r="4.6" fill="none" stroke="#77AC30" stroke-width="3.3"/><circle cx="646.09" cy="290.70" r="4.6" fill="none" stroke="#77AC30" stroke-width="3.3"/><circle cx="657.19" cy="281.70" r="4.6" fill="none" stroke="#77AC30" stroke-width="3.3"/>
<line x1="271.26" y1="401.3" x2="271.26" y2="195.3" stroke="#000" stroke-width="2.9" stroke-dasharray="21.9 14.24"/><line x1="510.24" y1="401.3" x2="510.24" y2="195.3" stroke="#000" stroke-width="2.9" stroke-dasharray="21.9 14.24"/>
<line x1="115.0" y1="401.75" x2="666.5" y2="401.75" stroke="#0000FF" stroke-width="3.1"/>
<rect x="115.0" y="40.5" width="551.5" height="412.8" fill="none" stroke="#262626" stroke-width="2.8"/>
<line x1="252.88" y1="453.3" x2="252.88" y2="446.3" stroke="#262626" stroke-width="2.8"/><line x1="252.88" y1="40.5" x2="252.88" y2="47.5" stroke="#262626" stroke-width="2.8"/><line x1="390.75" y1="453.3" x2="390.75" y2="446.3" stroke="#262626" stroke-width="2.8"/><line x1="390.75" y1="40.5" x2="390.75" y2="47.5" stroke="#262626" stroke-width="2.8"/><line x1="528.62" y1="453.3" x2="528.62" y2="446.3" stroke="#262626" stroke-width="2.8"/><line x1="528.62" y1="40.5" x2="528.62" y2="47.5" stroke="#262626" stroke-width="2.8"/><line x1="115.0" y1="298.50" x2="122.0" y2="298.50" stroke="#262626" stroke-width="2.8"/><line x1="666.5" y1="298.50" x2="659.5" y2="298.50" stroke="#262626" stroke-width="2.8"/><line x1="115.0" y1="195.30" x2="122.0" y2="195.30" stroke="#262626" stroke-width="2.8"/><line x1="666.5" y1="195.30" x2="659.5" y2="195.30" stroke="#262626" stroke-width="2.8"/><line x1="115.0" y1="92.10" x2="122.0" y2="92.10" stroke="#262626" stroke-width="2.8"/><line x1="666.5" y1="92.10" x2="659.5" y2="92.10" stroke="#262626" stroke-width="2.8"/>
<path d="M338.10 65.30L343.15 74.40L333.05 74.40Z" fill="none" stroke="#E52A2F" stroke-width="2.9" stroke-linejoin="miter"/><path d="M345.70 65.30L350.75 74.40L340.65 74.40Z" fill="none" stroke="#0072BD" stroke-width="2.9" stroke-linejoin="miter"/><path d="M353.30 65.30L358.35 74.40L348.25 74.40Z" fill="none" stroke="#77AC30" stroke-width="2.9" stroke-linejoin="miter"/>
<circle cx="337.70" cy="111.40" r="4.6" fill="none" stroke="#E52A2F" stroke-width="3.3"/><circle cx="345.40" cy="111.40" r="4.6" fill="none" stroke="#0072BD" stroke-width="3.3"/><circle cx="353.00" cy="111.40" r="4.6" fill="none" stroke="#77AC30" stroke-width="3.3"/>
<line x1="134.40" y1="631.80" x2="134.40" y2="649.30" stroke="#FFD700" stroke-width="2.5"/><line x1="125.00" y1="631.80" x2="143.80" y2="631.80" stroke="#FFD700" stroke-width="2.9"/><line x1="125.00" y1="649.30" x2="143.80" y2="649.30" stroke="#FFD700" stroke-width="2.9"/><circle cx="134.40" cy="640.50" r="4.6" fill="none" stroke="#FFD700" stroke-width="3.3"/><line x1="206.60" y1="672.30" x2="206.60" y2="688.70" stroke="#FFD700" stroke-width="2.5"/><line x1="197.20" y1="672.30" x2="216.00" y2="672.30" stroke="#FFD700" stroke-width="2.9"/><line x1="197.20" y1="688.70" x2="216.00" y2="688.70" stroke="#FFD700" stroke-width="2.9"/><circle cx="206.60" cy="680.50" r="4.6" fill="none" stroke="#FFD700" stroke-width="3.3"/><line x1="278.20" y1="735.50" x2="278.20" y2="751.20" stroke="#FFD700" stroke-width="2.5"/><line x1="268.80" y1="735.50" x2="287.60" y2="735.50" stroke="#FFD700" stroke-width="2.9"/><line x1="268.80" y1="751.20" x2="287.60" y2="751.20" stroke="#FFD700" stroke-width="2.9"/><circle cx="278.20" cy="743.50" r="4.6" fill="none" stroke="#FFD700" stroke-width="3.3"/><line x1="350.30" y1="800.50" x2="350.30" y2="815.00" stroke="#FFD700" stroke-width="2.5"/><line x1="340.90" y1="800.50" x2="359.70" y2="800.50" stroke="#FFD700" stroke-width="2.9"/><line x1="340.90" y1="815.00" x2="359.70" y2="815.00" stroke="#FFD700" stroke-width="2.9"/><circle cx="350.30" cy="807.50" r="4.6" fill="none" stroke="#FFD700" stroke-width="3.3"/><line x1="422.20" y1="856.20" x2="422.20" y2="872.00" stroke="#FFD700" stroke-width="2.5"/><line x1="412.80" y1="856.20" x2="431.60" y2="856.20" stroke="#FFD700" stroke-width="2.9"/><line x1="412.80" y1="872.00" x2="431.60" y2="872.00" stroke="#FFD700" stroke-width="2.9"/><circle cx="422.20" cy="864.00" r="4.6" fill="none" stroke="#FFD700" stroke-width="3.3"/><line x1="494.30" y1="853.00" x2="494.30" y2="870.00" stroke="#FFD700" stroke-width="2.5"/><line x1="484.90" y1="853.00" x2="503.70" y2="853.00" stroke="#FFD700" stroke-width="2.9"/><line x1="484.90" y1="870.00" x2="503.70" y2="870.00" stroke="#FFD700" stroke-width="2.9"/><circle cx="494.30" cy="861.50" r="4.6" fill="none" stroke="#FFD700" stroke-width="3.3"/><line x1="566.20" y1="896.20" x2="566.20" y2="911.50" stroke="#FFD700" stroke-width="2.5"/><line x1="556.80" y1="896.20" x2="575.60" y2="896.20" stroke="#FFD700" stroke-width="2.9"/><line x1="556.80" y1="911.50" x2="575.60" y2="911.50" stroke="#FFD700" stroke-width="2.9"/><circle cx="566.20" cy="903.80" r="4.6" fill="none" stroke="#FFD700" stroke-width="3.3"/><line x1="638.00" y1="933.50" x2="638.00" y2="952.00" stroke="#FFD700" stroke-width="2.5"/><line x1="628.60" y1="933.50" x2="647.40" y2="933.50" stroke="#FFD700" stroke-width="2.9"/><line x1="628.60" y1="952.00" x2="647.40" y2="952.00" stroke="#FFD700" stroke-width="2.9"/><circle cx="638.00" cy="942.80" r="4.6" fill="none" stroke="#FFD700" stroke-width="3.3"/>
<line x1="134.40" y1="631.80" x2="134.40" y2="649.30" stroke="#0072BD" stroke-width="2.5"/><line x1="125.00" y1="631.80" x2="143.80" y2="631.80" stroke="#0072BD" stroke-width="2.9"/><line x1="125.00" y1="649.30" x2="143.80" y2="649.30" stroke="#0072BD" stroke-width="2.9"/><circle cx="134.40" cy="640.50" r="4.6" fill="none" stroke="#0072BD" stroke-width="3.3"/><line x1="206.60" y1="670.20" x2="206.60" y2="686.20" stroke="#0072BD" stroke-width="2.5"/><line x1="197.20" y1="670.20" x2="216.00" y2="670.20" stroke="#0072BD" stroke-width="2.9"/><line x1="197.20" y1="686.20" x2="216.00" y2="686.20" stroke="#0072BD" stroke-width="2.9"/><circle cx="206.60" cy="678.70" r="4.6" fill="none" stroke="#0072BD" stroke-width="3.3"/><line x1="278.20" y1="761.80" x2="278.20" y2="779.30" stroke="#0072BD" stroke-width="2.5"/><line x1="268.80" y1="761.80" x2="287.60" y2="761.80" stroke="#0072BD" stroke-width="2.9"/><line x1="268.80" y1="779.30" x2="287.60" y2="779.30" stroke="#0072BD" stroke-width="2.9"/><circle cx="278.20" cy="770.50" r="4.6" fill="none" stroke="#0072BD" stroke-width="3.3"/><line x1="350.30" y1="778.20" x2="350.30" y2="795.00" stroke="#0072BD" stroke-width="2.5"/><line x1="340.90" y1="778.20" x2="359.70" y2="778.20" stroke="#0072BD" stroke-width="2.9"/><line x1="340.90" y1="795.00" x2="359.70" y2="795.00" stroke="#0072BD" stroke-width="2.9"/><circle cx="350.30" cy="786.50" r="4.6" fill="none" stroke="#0072BD" stroke-width="3.3"/><line x1="422.20" y1="823.50" x2="422.20" y2="839.00" stroke="#0072BD" stroke-width="2.5"/><line x1="412.80" y1="823.50" x2="431.60" y2="823.50" stroke="#0072BD" stroke-width="2.9"/><line x1="412.80" y1="839.00" x2="431.60" y2="839.00" stroke="#0072BD" stroke-width="2.9"/><circle cx="422.20" cy="831.00" r="4.6" fill="none" stroke="#0072BD" stroke-width="3.3"/><line x1="494.30" y1="845.50" x2="494.30" y2="861.80" stroke="#0072BD" stroke-width="2.5"/><line x1="484.90" y1="845.50" x2="503.70" y2="845.50" stroke="#0072BD" stroke-width="2.9"/><line x1="484.90" y1="861.80" x2="503.70" y2="861.80" stroke="#0072BD" stroke-width="2.9"/><circle cx="494.30" cy="853.50" r="4.6" fill="none" stroke="#0072BD" stroke-width="3.3"/><line x1="566.20" y1="889.20" x2="566.20" y2="906.80" stroke="#0072BD" stroke-width="2.5"/><line x1="556.80" y1="889.20" x2="575.60" y2="889.20" stroke="#0072BD" stroke-width="2.9"/><line x1="556.80" y1="906.80" x2="575.60" y2="906.80" stroke="#0072BD" stroke-width="2.9"/><circle cx="566.20" cy="898.00" r="4.6" fill="none" stroke="#0072BD" stroke-width="3.3"/><line x1="638.00" y1="893.20" x2="638.00" y2="910.50" stroke="#0072BD" stroke-width="2.5"/><line x1="628.60" y1="893.20" x2="647.40" y2="893.20" stroke="#0072BD" stroke-width="2.9"/><line x1="628.60" y1="910.50" x2="647.40" y2="910.50" stroke="#0072BD" stroke-width="2.9"/><circle cx="638.00" cy="901.80" r="4.6" fill="none" stroke="#0072BD" stroke-width="3.3"/>
<path d="M111.00 616.65 L113.40 619.06 L115.79 621.46 L118.19 623.84 L120.59 626.21 L122.99 628.57 L125.38 630.92 L127.78 633.26 L130.18 635.58 L132.58 637.90 L134.97 640.20 L137.37 642.49 L139.77 644.77 L142.17 647.04 L144.56 649.29 L146.96 651.54 L149.36 653.77 L151.76 656.00 L154.15 658.21 L156.55 660.41 L158.95 662.60 L161.35 664.78 L163.74 666.94 L166.14 669.10 L168.54 671.25 L170.93 673.38 L173.33 675.51 L175.73 677.62 L178.13 679.73 L180.52 681.82 L182.92 683.90 L185.32 685.98 L187.72 688.04 L190.11 690.09 L192.51 692.13 L194.91 694.16 L197.31 696.18 L199.70 698.20 L202.10 700.20 L204.50 702.19 L206.90 704.17 L209.29 706.14 L211.69 708.10 L214.09 710.05 L216.49 712.00 L218.88 713.93 L221.28 715.85 L223.68 717.77 L226.07 719.67 L228.47 721.56 L230.87 723.45 L233.27 725.32 L235.66 727.19 L238.06 729.05 L240.46 730.89 L242.86 732.73 L245.25 734.56 L247.65 736.38 L250.05 738.19 L252.45 739.99 L254.84 741.79 L257.24 743.57 L259.64 745.34 L262.04 747.11 L264.43 748.87 L266.83 750.62 L269.23 752.36 L271.63 754.09 L274.02 755.81 L276.42 757.52 L278.82 759.23 L281.21 760.93 L283.61 762.61 L286.01 764.29 L288.41 765.97 L290.80 767.63 L293.20 769.28 L295.60 770.93 L298.00 772.57 L300.39 774.20 L302.79 775.82 L305.19 777.44 L307.59 779.04 L309.98 780.64 L312.38 782.23 L314.78 783.81 L317.18 785.39 L319.57 786.95 L321.97 788.51 L324.37 790.06 L326.77 791.61 L329.16 793.14 L331.56 794.67 L333.96 796.19 L336.35 797.70 L338.75 799.21 L341.15 800.70 L343.55 802.19 L345.94 803.68 L348.34 805.15 L350.74 806.62 L353.14 808.08 L355.53 809.53 L357.93 810.98 L360.33 812.42 L362.73 813.85 L365.12 815.27 L367.52 816.69 L369.92 818.10 L372.32 819.50 L374.71 820.90 L377.11 822.29 L379.51 823.67 L381.91 825.05 L384.30 826.42 L386.70 827.78 L389.10 829.13 L391.49 830.48 L393.89 831.82 L396.29 833.16 L398.69 834.49 L401.08 835.81 L403.48 837.12 L405.88 838.43 L408.28 839.73 L410.67 841.03 L413.07 842.32 L415.47 843.60 L417.87 844.88 L420.26 846.14 L422.66 847.41 L425.06 848.67 L427.46 849.92 L429.85 851.16 L432.25 852.40 L434.65 853.63 L437.05 854.86 L439.44 856.08 L441.84 857.29 L444.24 858.50 L446.63 859.70 L449.03 860.90 L451.43 862.09 L453.83 863.27 L456.22 864.45 L458.62 865.62 L461.02 866.79 L463.42 867.95 L465.81 869.10 L468.21 870.25 L470.61 871.39 L473.01 872.53 L475.40 873.66 L477.80 874.79 L480.20 875.91 L482.60 877.02 L484.99 878.13 L487.39 879.24 L489.79 880.34 L492.19 881.43 L494.58 882.52 L496.98 883.60 L499.38 884.67 L501.77 885.75 L504.17 886.81 L506.57 887.87 L508.97 888.93 L511.36 889.98 L513.76 891.02 L516.16 892.06 L518.56 893.10 L520.95 894.12 L523.35 895.15 L525.75 896.17 L528.15 897.18 L530.54 898.19 L532.94 899.19 L535.34 900.19 L537.74 901.19 L540.13 902.18 L542.53 903.16 L544.93 904.14 L547.33 905.11 L549.72 906.08 L552.12 907.05 L554.52 908.01 L556.91 908.96 L559.31 909.91 L561.71 910.86 L564.11 911.80 L566.50 912.73 L568.90 913.66 L571.30 914.59 L573.70 915.51 L576.09 916.43 L578.49 917.34 L580.89 918.25 L583.29 919.15 L585.68 920.05 L588.08 920.95 L590.48 921.84 L592.88 922.73 L595.27 923.61 L597.67 924.48 L600.07 925.36 L602.47 926.22 L604.86 927.09 L607.26 927.95 L609.66 928.80 L612.05 929.65 L614.45 930.50 L616.85 931.34 L619.25 932.18 L621.64 933.02 L624.04 933.85 L626.44 934.67 L628.84 935.49 L631.23 936.31 L633.63 937.13 L636.03 937.94 L638.43 938.74 L640.82 939.54 L643.22 940.34 L645.62 941.13 L648.02 941.92 L650.41 942.71 L652.81 943.49 L655.21 944.27 L657.61 945.04 L660.00 945.81 L662.40 946.58" fill="none" stroke="#000" stroke-width="3" stroke-dasharray="18.8 17.54" stroke-dashoffset="35.04" stroke-linecap="round"/>
<line x1="134.40" y1="629.20" x2="134.40" y2="651.80" stroke="#A2142F" stroke-width="2.5"/><line x1="125.00" y1="629.20" x2="143.80" y2="629.20" stroke="#A2142F" stroke-width="2.9"/><line x1="125.00" y1="651.80" x2="143.80" y2="651.80" stroke="#A2142F" stroke-width="2.9"/><circle cx="134.40" cy="640.50" r="4.6" fill="none" stroke="#A2142F" stroke-width="3.3"/><line x1="206.60" y1="690.90" x2="206.60" y2="713.70" stroke="#A2142F" stroke-width="2.5"/><line x1="197.20" y1="690.90" x2="216.00" y2="690.90" stroke="#A2142F" stroke-width="2.9"/><line x1="197.20" y1="713.70" x2="216.00" y2="713.70" stroke="#A2142F" stroke-width="2.9"/><circle cx="206.60" cy="702.30" r="4.6" fill="none" stroke="#A2142F" stroke-width="3.3"/><line x1="278.20" y1="805.50" x2="278.20" y2="829.80" stroke="#A2142F" stroke-width="2.5"/><line x1="268.80" y1="805.50" x2="287.60" y2="805.50" stroke="#A2142F" stroke-width="2.9"/><line x1="268.80" y1="829.80" x2="287.60" y2="829.80" stroke="#A2142F" stroke-width="2.9"/><circle cx="278.20" cy="817.80" r="4.6" fill="none" stroke="#A2142F" stroke-width="3.3"/><line x1="350.30" y1="847.00" x2="350.30" y2="872.00" stroke="#A2142F" stroke-width="2.5"/><line x1="340.90" y1="847.00" x2="359.70" y2="847.00" stroke="#A2142F" stroke-width="2.9"/><line x1="340.90" y1="872.00" x2="359.70" y2="872.00" stroke="#A2142F" stroke-width="2.9"/><circle cx="350.30" cy="859.50" r="4.6" fill="none" stroke="#A2142F" stroke-width="3.3"/><line x1="422.20" y1="871.50" x2="422.20" y2="893.50" stroke="#A2142F" stroke-width="2.5"/><line x1="412.80" y1="871.50" x2="431.60" y2="871.50" stroke="#A2142F" stroke-width="2.9"/><line x1="412.80" y1="893.50" x2="431.60" y2="893.50" stroke="#A2142F" stroke-width="2.9"/><circle cx="422.20" cy="882.50" r="4.6" fill="none" stroke="#A2142F" stroke-width="3.3"/><line x1="494.30" y1="889.30" x2="494.30" y2="915.00" stroke="#A2142F" stroke-width="2.5"/><line x1="484.90" y1="889.30" x2="503.70" y2="889.30" stroke="#A2142F" stroke-width="2.9"/><line x1="484.90" y1="915.00" x2="503.70" y2="915.00" stroke="#A2142F" stroke-width="2.9"/><circle cx="494.30" cy="901.80" r="4.6" fill="none" stroke="#A2142F" stroke-width="3.3"/><line x1="566.20" y1="955.80" x2="566.20" y2="978.50" stroke="#A2142F" stroke-width="2.5"/><line x1="556.80" y1="955.80" x2="575.60" y2="955.80" stroke="#A2142F" stroke-width="2.9"/><line x1="556.80" y1="978.50" x2="575.60" y2="978.50" stroke="#A2142F" stroke-width="2.9"/><circle cx="566.20" cy="967.00" r="4.6" fill="none" stroke="#A2142F" stroke-width="3.3"/><line x1="638.00" y1="925.50" x2="638.00" y2="948.50" stroke="#A2142F" stroke-width="2.5"/><line x1="628.60" y1="925.50" x2="647.40" y2="925.50" stroke="#A2142F" stroke-width="2.9"/><line x1="628.60" y1="948.50" x2="647.40" y2="948.50" stroke="#A2142F" stroke-width="2.9"/><circle cx="638.00" cy="937.00" r="4.6" fill="none" stroke="#A2142F" stroke-width="3.3"/>
<line x1="134.40" y1="618.50" x2="134.40" y2="662.60" stroke="#008000" stroke-width="2.5"/><line x1="125.00" y1="618.50" x2="143.80" y2="618.50" stroke="#008000" stroke-width="2.9"/><line x1="125.00" y1="662.60" x2="143.80" y2="662.60" stroke="#008000" stroke-width="2.9"/><circle cx="134.40" cy="640.50" r="4.6" fill="none" stroke="#008000" stroke-width="3.3"/><line x1="206.60" y1="724.60" x2="206.60" y2="752.80" stroke="#008000" stroke-width="2.5"/><line x1="197.20" y1="724.60" x2="216.00" y2="724.60" stroke="#008000" stroke-width="2.9"/><line x1="197.20" y1="752.80" x2="216.00" y2="752.80" stroke="#008000" stroke-width="2.9"/><circle cx="206.60" cy="738.70" r="4.6" fill="none" stroke="#008000" stroke-width="3.3"/><line x1="278.20" y1="796.00" x2="278.20" y2="831.80" stroke="#008000" stroke-width="2.5"/><line x1="268.80" y1="796.00" x2="287.60" y2="796.00" stroke="#008000" stroke-width="2.9"/><line x1="268.80" y1="831.80" x2="287.60" y2="831.80" stroke="#008000" stroke-width="2.9"/><circle cx="278.20" cy="814.00" r="4.6" fill="none" stroke="#008000" stroke-width="3.3"/><line x1="350.30" y1="791.80" x2="350.30" y2="842.00" stroke="#008000" stroke-width="2.5"/><line x1="340.90" y1="791.80" x2="359.70" y2="791.80" stroke="#008000" stroke-width="2.9"/><line x1="340.90" y1="842.00" x2="359.70" y2="842.00" stroke="#008000" stroke-width="2.9"/><circle cx="350.30" cy="817.00" r="4.6" fill="none" stroke="#008000" stroke-width="3.3"/><line x1="422.20" y1="877.50" x2="422.20" y2="912.00" stroke="#008000" stroke-width="2.5"/><line x1="412.80" y1="877.50" x2="431.60" y2="877.50" stroke="#008000" stroke-width="2.9"/><line x1="412.80" y1="912.00" x2="431.60" y2="912.00" stroke="#008000" stroke-width="2.9"/><circle cx="422.20" cy="895.00" r="4.6" fill="none" stroke="#008000" stroke-width="3.3"/><line x1="494.30" y1="856.50" x2="494.30" y2="906.50" stroke="#008000" stroke-width="2.5"/><line x1="484.90" y1="856.50" x2="503.70" y2="856.50" stroke="#008000" stroke-width="2.9"/><line x1="484.90" y1="906.50" x2="503.70" y2="906.50" stroke="#008000" stroke-width="2.9"/><circle cx="494.30" cy="881.50" r="4.6" fill="none" stroke="#008000" stroke-width="3.3"/><line x1="566.20" y1="914.00" x2="566.20" y2="943.80" stroke="#008000" stroke-width="2.5"/><line x1="556.80" y1="914.00" x2="575.60" y2="914.00" stroke="#008000" stroke-width="2.9"/><line x1="556.80" y1="943.80" x2="575.60" y2="943.80" stroke="#008000" stroke-width="2.9"/><circle cx="566.20" cy="929.00" r="4.6" fill="none" stroke="#008000" stroke-width="3.3"/><line x1="638.00" y1="943.20" x2="638.00" y2="979.50" stroke="#008000" stroke-width="2.5"/><line x1="628.60" y1="943.20" x2="647.40" y2="943.20" stroke="#008000" stroke-width="2.9"/><line x1="628.60" y1="979.50" x2="647.40" y2="979.50" stroke="#008000" stroke-width="2.9"/><circle cx="638.00" cy="961.50" r="4.6" fill="none" stroke="#008000" stroke-width="3.3"/>
<rect x="111.0" y="594.4" width="551.4" height="413.20000000000005" fill="none" stroke="#262626" stroke-width="2.6"/>
<line x1="182.92" y1="1007.6" x2="182.92" y2="1000.4" stroke="#262626" stroke-width="2.6"/><line x1="182.92" y1="594.4" x2="182.92" y2="601.6" stroke="#262626" stroke-width="2.6"/><line x1="302.79" y1="1007.6" x2="302.79" y2="1000.4" stroke="#262626" stroke-width="2.6"/><line x1="302.79" y1="594.4" x2="302.79" y2="601.6" stroke="#262626" stroke-width="2.6"/><line x1="422.66" y1="1007.6" x2="422.66" y2="1000.4" stroke="#262626" stroke-width="2.6"/><line x1="422.66" y1="594.4" x2="422.66" y2="601.6" stroke="#262626" stroke-width="2.6"/><line x1="542.53" y1="1007.6" x2="542.53" y2="1000.4" stroke="#262626" stroke-width="2.6"/><line x1="542.53" y1="594.4" x2="542.53" y2="601.6" stroke="#262626" stroke-width="2.6"/><line x1="111.0" y1="915.75" x2="118.2" y2="915.75" stroke="#262626" stroke-width="2.6"/><line x1="662.4" y1="915.75" x2="655.1999999999999" y2="915.75" stroke="#262626" stroke-width="2.6"/><line x1="111.0" y1="823.90" x2="118.2" y2="823.90" stroke="#262626" stroke-width="2.6"/><line x1="662.4" y1="823.90" x2="655.1999999999999" y2="823.90" stroke="#262626" stroke-width="2.6"/><line x1="111.0" y1="732.05" x2="118.2" y2="732.05" stroke="#262626" stroke-width="2.6"/><line x1="662.4" y1="732.05" x2="655.1999999999999" y2="732.05" stroke="#262626" stroke-width="2.6"/><line x1="111.0" y1="640.20" x2="118.2" y2="640.20" stroke="#262626" stroke-width="2.6"/><line x1="662.4" y1="640.20" x2="655.1999999999999" y2="640.20" stroke="#262626" stroke-width="2.6"/>
<line x1="455.4" y1="623.60" x2="455.4" y2="651.20" stroke="#FFD700" stroke-width="2.5"/><line x1="446.0" y1="623.60" x2="464.79999999999995" y2="623.60" stroke="#FFD700" stroke-width="2.9"/><line x1="446.0" y1="651.20" x2="464.79999999999995" y2="651.20" stroke="#FFD700" stroke-width="2.9"/><circle cx="455.40" cy="637.40" r="4.6" fill="none" stroke="#FFD700" stroke-width="3.3"/><line x1="455.4" y1="660.70" x2="455.4" y2="688.30" stroke="#0072BD" stroke-width="2.5"/><line x1="446.0" y1="660.70" x2="464.79999999999995" y2="660.70" stroke="#0072BD" stroke-width="2.9"/><line x1="446.0" y1="688.30" x2="464.79999999999995" y2="688.30" stroke="#0072BD" stroke-width="2.9"/><circle cx="455.40" cy="674.50" r="4.6" fill="none" stroke="#0072BD" stroke-width="3.3"/><line x1="455.4" y1="697.80" x2="455.4" y2="725.40" stroke="#A2142F" stroke-width="2.5"/><line x1="446.0" y1="697.80" x2="464.79999999999995" y2="697.80" stroke="#A2142F" stroke-width="2.9"/><line x1="446.0" y1="725.40" x2="464.79999999999995" y2="725.40" stroke="#A2142F" stroke-width="2.9"/><circle cx="455.40" cy="711.60" r="4.6" fill="none" stroke="#A2142F" stroke-width="3.3"/><line x1="455.4" y1="734.90" x2="455.4" y2="762.50" stroke="#008000" stroke-width="2.5"/><line x1="446.0" y1="734.90" x2="464.79999999999995" y2="734.90" stroke="#008000" stroke-width="2.9"/><line x1="446.0" y1="762.50" x2="464.79999999999995" y2="762.50" stroke="#008000" stroke-width="2.9"/><circle cx="455.40" cy="748.70" r="4.6" fill="none" stroke="#008000" stroke-width="3.3"/>
<g id="lab_a" transform="translate(75.133,19.468) scale(0.9305,1.0304)"><text x="0" y="0" fill="#000" stroke="#000" stroke-width="0.5" style="font-family:&quot;Liberation Sans&quot;,sans-serif;font-size:36px;text-rendering:geometricPrecision;font-weight:bold">a</text></g>
<g id="lab_b" transform="translate(65.622,568.344) scale(1.0244,0.9727)"><text x="0" y="0" fill="#000" stroke="#000" stroke-width="0.5" style="font-family:&quot;Liberation Sans&quot;,sans-serif;font-size:37px;text-rendering:geometricPrecision;font-weight:bold">b</text></g>
<g id="ya_06" transform="translate(59.707,103.113) scale(1.0082,1.0194)"><text x="0" y="0" fill="#262626" stroke="#262626" stroke-width="0.5" style="font-family:&quot;Liberation Sans&quot;,sans-serif;font-size:30px;text-rendering:geometricPrecision">0.6</text></g>
<g id="ya_04" transform="translate(59.945,206.431) scale(0.9866,1.0113)"><text x="0" y="0" fill="#262626" stroke="#262626" stroke-width="0.5" style="font-family:&quot;Liberation Sans&quot;,sans-serif;font-size:30px;text-rendering:geometricPrecision">0.4</text></g>
<g id="ya_02" transform="translate(59.784,310.103) scale(1.0008,1.0275)"><text x="0" y="0" fill="#262626" stroke="#262626" stroke-width="0.5" style="font-family:&quot;Liberation Sans&quot;,sans-serif;font-size:30px;text-rendering:geometricPrecision">0.2</text></g>
<g id="ya_0" transform="translate(84.778,412.404) scale(0.9830,1.0152)"><text x="0" y="0" fill="#262626" stroke="#262626" stroke-width="0.5" style="font-family:&quot;Liberation Sans&quot;,sans-serif;font-size:30px;text-rendering:geometricPrecision">0</text></g>
<g id="xa_m30" transform="translate(91.831,494.939) scale(1.0213,1.0018)"><text x="0" y="0" fill="#262626" stroke="#262626" stroke-width="0.5" style="font-family:&quot;Liberation Sans&quot;,sans-serif;font-size:30px;text-rendering:geometricPrecision">-30</text></g>
<g id="xa_m15" transform="translate(229.702,495.036) scale(1.0176,1.0186)"><text x="0" y="0" fill="#262626" stroke="#262626" stroke-width="0.5" style="font-family:&quot;Liberation Sans&quot;,sans-serif;font-size:30px;text-rendering:geometricPrecision">-15</text></g>
<g id="xa_0" transform="translate(381.252,494.272) scale(1.0102,1.0092)"><text x="0" y="0" fill="#262626" stroke="#262626" stroke-width="0.5" style="font-family:&quot;Liberation Sans&quot;,sans-serif;font-size:30px;text-rendering:geometricPrecision">0</text></g>
<g id="xa_15" transform="translate(512.423,494.303) scale(0.9814,1.0180)"><text x="0" y="0" fill="#262626" stroke="#262626" stroke-width="0.5" style="font-family:&quot;Liberation Sans&quot;,sans-serif;font-size:30px;text-rendering:geometricPrecision">15</text></g>
<g id="xa_30" transform="translate(649.708,494.987) scale(0.9368,1.0088)"><text x="0" y="0" fill="#262626" stroke="#262626" stroke-width="0.5" style="font-family:&quot;Liberation Sans&quot;,sans-serif;font-size:30px;text-rendering:geometricPrecision">30</text></g>
<g id="xlab_a" transform="translate(293.306,541.570) scale(1.0237,1.0408)"><text x="0" y="0" fill="#262626" stroke="#262626" stroke-width="0.5" style="font-family:&quot;Liberation Sans&quot;,sans-serif;font-size:33px;text-rendering:geometricPrecision">voltage (<tspan style="font-family:&quot;Liberation Serif&quot;,serif;font-style:italic">μ</tspan>V)</text></g>
<g id="ylab_a" transform="translate(37.852,356.862) rotate(-90) scale(1.0192,0.9959)"><text x="0" y="0" fill="#262626" stroke="#262626" stroke-width="0.5" style="font-family:&quot;Liberation Sans&quot;,sans-serif;font-size:33px;text-rendering:geometricPrecision"><tspan font-style="italic">S</tspan> (10<tspan font-size="0.84em" dy="-16">-29</tspan><tspan dy="16"> A</tspan><tspan font-size="0.84em" dy="-16">2</tspan><tspan dy="16">/Hz)</tspan></text></g>
<g id="leg_a1" transform="translate(376.297,83.932) scale(1.0142,0.9978)"><text x="0" y="0" fill="#000" stroke="#000" stroke-width="0.5" style="font-family:&quot;Liberation Sans&quot;,sans-serif;font-size:27px;text-rendering:geometricPrecision"><tspan style="font-family:&quot;Liberation Serif&quot;,serif;font-style:italic" font-size="1.12em">ν</tspan> <tspan font-weight="bold">=</tspan> 2/3</text></g>
<g id="leg_a2" transform="translate(376.308,121.326) scale(1.0113,1.0002)"><text x="0" y="0" fill="#000" stroke="#000" stroke-width="0.5" style="font-family:&quot;Liberation Sans&quot;,sans-serif;font-size:27px;text-rendering:geometricPrecision"><tspan style="font-family:&quot;Liberation Serif&quot;,serif;font-style:italic" font-size="1.12em">ν</tspan> <tspan font-weight="bold">=</tspan> 3/5</text></g>
<g id="ann30" transform="translate(530.793,76.736) scale(1.0136,1.0381)"><text x="0" y="0" fill="#E52A2F" stroke="#E52A2F" stroke-width="0.5" style="font-family:&quot;Liberation Sans&quot;,sans-serif;font-size:30px;text-rendering:geometricPrecision;font-style:italic">30</text></g>
<g id="annum30" transform="translate(530.232,112.581) scale(1.0188,0.9445)"><text x="0" y="0" fill="#E52A2F" stroke="#E52A2F" stroke-width="0.5" style="font-family:&quot;Liberation Sans&quot;,sans-serif;font-size:30px;text-rendering:geometricPrecision;font-style:italic"><tspan style="font-family:&quot;Liberation Serif&quot;,serif;font-style:italic" font-size="1.18em">μ</tspan><tspan dx="2.5">m</tspan></text></g>
<g id="ann120" transform="translate(572.808,181.048) scale(0.9537,1.0341)"><text x="0" y="0" fill="#0072BD" stroke="#0072BD" stroke-width="0.5" style="font-family:&quot;Liberation Sans&quot;,sans-serif;font-size:30px;text-rendering:geometricPrecision;font-style:italic">120</text></g>
<g id="annum120" transform="translate(568.836,216.360) scale(1.0125,0.9448)"><text x="0" y="0" fill="#0072BD" stroke="#0072BD" stroke-width="0.5" style="font-family:&quot;Liberation Sans&quot;,sans-serif;font-size:30px;text-rendering:geometricPrecision;font-style:italic"><tspan style="font-family:&quot;Liberation Serif&quot;,serif;font-style:italic" font-size="1.18em">μ</tspan><tspan dx="2.5">m</tspan></text></g>
<g id="ann210" transform="translate(609.267,353.561) scale(0.9744,1.0444)"><text x="0" y="0" fill="#77AC30" stroke="#77AC30" stroke-width="0.5" style="font-family:&quot;Liberation Sans&quot;,sans-serif;font-size:30px;text-rendering:geometricPrecision;font-style:italic">210</text></g>
<g id="annum210" transform="translate(607.687,389.215) scale(1.0226,0.9419)"><text x="0" y="0" fill="#77AC30" stroke="#77AC30" stroke-width="0.5" style="font-family:&quot;Liberation Sans&quot;,sans-serif;font-size:30px;text-rendering:geometricPrecision;font-style:italic"><tspan style="font-family:&quot;Liberation Serif&quot;,serif;font-style:italic" font-size="1.18em">μ</tspan><tspan dx="2.5">m</tspan></text></g>
<g id="yb_1" transform="translate(81.587,651.785) scale(0.6703,1.0454)"><text x="0" y="0" fill="#262626" stroke="#262626" stroke-width="0.5" style="font-family:&quot;Liberation Sans&quot;,sans-serif;font-size:30px;text-rendering:geometricPrecision">1</text></g>
<g id="yb_08" transform="translate(55.108,743.854) scale(1.0094,1.0159)"><text x="0" y="0" fill="#262626" stroke="#262626" stroke-width="0.5" style="font-family:&quot;Liberation Sans&quot;,sans-serif;font-size:30px;text-rendering:geometricPrecision">0.8</text></g>
<g id="yb_06" transform="translate(55.097,835.366) scale(1.0109,1.0192)"><text x="0" y="0" fill="#262626" stroke="#262626" stroke-width="0.5" style="font-family:&quot;Liberation Sans&quot;,sans-serif;font-size:30px;text-rendering:geometricPrecision">0.6</text></g>
<g id="yb_04" transform="translate(55.121,927.162) scale(0.9952,1.0162)"><text x="0" y="0" fill="#262626" stroke="#262626" stroke-width="0.5" style="font-family:&quot;Liberation Sans&quot;,sans-serif;font-size:30px;text-rendering:geometricPrecision">0.4</text></g>
<g id="yb_02" transform="translate(55.117,1019.433) scale(1.0142,1.0170)"><text x="0" y="0" fill="#262626" stroke="#262626" stroke-width="0.5" style="font-family:&quot;Liberation Sans&quot;,sans-serif;font-size:30px;text-rendering:geometricPrecision">0.2</text></g>
<g id="xb_50" transform="translate(165.433,1049.146) scale(0.9996,0.9971)"><text x="0" y="0" fill="#262626" stroke="#262626" stroke-width="0.5" style="font-family:&quot;Liberation Sans&quot;,sans-serif;font-size:30px;text-rendering:geometricPrecision">50</text></g>
<g id="xb_100" transform="translate(276.668,1049.392) scale(0.9857,0.9912)"><text x="0" y="0" fill="#262626" stroke="#262626" stroke-width="0.5" style="font-family:&quot;Liberation Sans&quot;,sans-serif;font-size:30px;text-rendering:geometricPrecision">100</text></g>
<g id="xb_150" transform="translate(396.720,1049.196) scale(0.9888,0.9930)"><text x="0" y="0" fill="#262626" stroke="#262626" stroke-width="0.5" style="font-family:&quot;Liberation Sans&quot;,sans-serif;font-size:30px;text-rendering:geometricPrecision">150</text></g>
<g id="xb_200" transform="translate(517.297,1049.387) scale(0.9726,0.9941)"><text x="0" y="0" fill="#262626" stroke="#262626" stroke-width="0.5" style="font-family:&quot;Liberation Sans&quot;,sans-serif;font-size:30px;text-rendering:geometricPrecision">200</text></g>
<g id="xb_250" transform="translate(635.475,1049.167) scale(0.9727,0.9934)"><text x="0" y="0" fill="#262626" stroke="#262626" stroke-width="0.5" style="font-family:&quot;Liberation Sans&quot;,sans-serif;font-size:30px;text-rendering:geometricPrecision">250</text></g>
<g id="xlab_b" transform="translate(340.094,1093.568) scale(1.0795,1.0795)"><text x="0" y="0" fill="#262626" stroke="#262626" stroke-width="0.5" style="font-family:&quot;Liberation Sans&quot;,sans-serif;font-size:33px;text-rendering:geometricPrecision"><tspan font-style="italic">L</tspan> (<tspan style="font-family:&quot;Liberation Serif&quot;,serif;font-style:italic">μ</tspan>m)</text></g>
<g id="ylab_b" transform="translate(24.530,850.585) rotate(-90) scale(0.9861,0.9861)"><text x="0" y="0" fill="#262626" stroke="#262626" stroke-width="0.5" style="font-family:&quot;Liberation Sans&quot;,sans-serif;font-size:33px;text-rendering:geometricPrecision">S/S<tspan font-size="0.84em" dy="15.5">max</tspan></text></g>
<g id="leg_b1" transform="translate(507.840,649.829) scale(1.0590,0.9844)"><text x="0" y="0" fill="#000" stroke="#000" stroke-width="0.5" style="font-family:&quot;Liberation Sans&quot;,sans-serif;font-size:28px;text-rendering:geometricPrecision"><tspan style="font-family:&quot;Liberation Serif&quot;,serif;font-style:italic" font-size="1.12em">ν</tspan><tspan dx="2"> </tspan><tspan font-weight="bold">=</tspan><tspan dx="1"> 2/3</tspan></text></g>
<g id="leg_b2" transform="translate(507.828,686.377) scale(1.0595,0.9844)"><text x="0" y="0" fill="#000" stroke="#000" stroke-width="0.5" style="font-family:&quot;Liberation Sans&quot;,sans-serif;font-size:28px;text-rendering:geometricPrecision"><tspan style="font-family:&quot;Liberation Serif&quot;,serif;font-style:italic" font-size="1.12em">ν</tspan><tspan dx="2"> </tspan><tspan font-weight="bold">=</tspan><tspan dx="1"> 3/5</tspan></text></g>
<g id="leg_b3" transform="translate(507.963,723.875) scale(1.0626,0.9975)"><text x="0" y="0" fill="#000" stroke="#000" stroke-width="0.5" style="font-family:&quot;Liberation Sans&quot;,sans-serif;font-size:28px;text-rendering:geometricPrecision"><tspan style="font-family:&quot;Liberation Serif&quot;,serif;font-style:italic" font-size="1.12em">ν</tspan><tspan dx="2"> </tspan><tspan font-weight="bold">=</tspan><tspan dx="1"> 1+2/3</tspan></text></g>
<g id="leg_b4" transform="translate(507.855,761.132) scale(1.0615,0.9849)"><text x="0" y="0" fill="#000" stroke="#000" stroke-width="0.5" style="font-family:&quot;Liberation Sans&quot;,sans-serif;font-size:28px;text-rendering:geometricPrecision"><tspan style="font-family:&quot;Liberation Serif&quot;,serif;font-style:italic" font-size="1.12em">ν</tspan><tspan dx="2"> </tspan><tspan font-weight="bold">=</tspan><tspan dx="1"> 1+3/5</tspan></text></g>
<g transform="translate(213,859.5) rotate(30.3)"><text x="0" y="0" fill="#000" stroke="#000" stroke-width="0.4" style="font-family:&quot;Liberation Sans&quot;,sans-serif;font-size:28px;text-rendering:geometricPrecision"><tspan font-style="italic" font-size="29.5">e</tspan><tspan font-size="24" dx="4" dy="-12" font-style="italic">-(L-30)/200</tspan></text></g>
</svg>
</body></html>
